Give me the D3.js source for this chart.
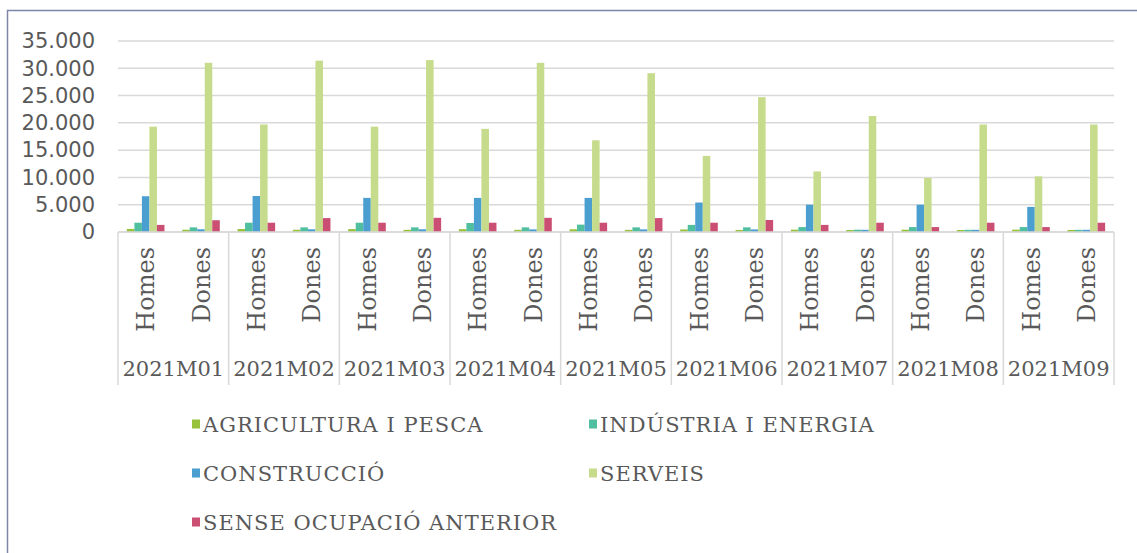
<!DOCTYPE html>
<html>
<head>
<meta charset="utf-8">
<script src="https://cdn.jsdelivr.net/npm/d3@7"></script>
<style>
  body { margin: 0; background: #fff; }
  svg { display: block; }
</style>
</head>
<body>
<div id="chart"></div>
<script>
// months on the outer axis, sex on the inner axis
const months = ['2021M01', '2021M02', '2021M03', '2021M04', '2021M05', '2021M06', '2021M07', '2021M08', '2021M09']
const sexes = ['Homes', 'Dones']
const seriesNames = ['AGRICULTURA I PESCA', 'INDÚSTRIA I ENERGIA', 'CONSTRUCCIÓ', 'SERVEIS', 'SENSE OCUPACIÓ ANTERIOR']
const yTicks = [0, 5000, 10000, 15000, 20000, 25000, 30000, 35000]

// values per month, [Homes, Dones] pairs
const agricultura = [560, 420, 550, 410, 540, 400, 520, 400, 500, 390, 470, 380, 430, 370, 420, 370, 430, 380]
const industria = [1700, 850, 1700, 850, 1700, 850, 1650, 850, 1350, 850, 1300, 850, 900, 420, 900, 400, 900, 400]
const construccio = [6550, 500, 6600, 500, 6250, 500, 6250, 480, 6250, 480, 5400, 470, 5000, 400, 5000, 400, 4600, 400]
const serveis = [19300, 31000, 19700, 31400, 19300, 31500, 18900, 31000, 16800, 29100, 13950, 24700, 11100, 21250, 9900, 19700, 10200, 19700]
const senseOcupacio = [1300, 2150, 1700, 2550, 1700, 2600, 1700, 2600, 1700, 2550, 1700, 2200, 1300, 1700, 900, 1700, 900, 1700]

const colors = ['#98c23c', '#4fbf9f', '#4a9ed0', '#c6db8c', '#cb4f72']

let svgWidth = 1137, svgHeight = 553
let margin = { top: 41, left: 118, right: 23, bottom: 321 }
let width = svgWidth - margin.left - margin.right
let height = svgHeight - margin.top - margin.bottom

let svg = d3.select('#chart').append('svg')
    .attr('width', svgWidth)
    .attr('height', svgHeight)

// outer chart frame (runs off the right and bottom edges)
svg.append('rect')
    .attr('x', 7.5).attr('y', 10.5)
    .attr('width', 1200).attr('height', 600)
    .attr('fill', 'none')
    .attr('stroke', '#7e86a8')
    .attr('stroke-width', 1.5)

let g = svg.append('g')
    .attr('transform', 'translate(' + margin.left + ',' + margin.top + ')')

let categories = []
months.forEach(m => sexes.forEach(s => categories.push(m + '|' + s)))

let valuesBySeries = [agricultura, industria, construccio, serveis, senseOcupacio]

let y = d3.scaleLinear().domain([0, 35000]).range([height, 0])
let xMonth = d3.scaleBand().domain(months).range([0, width])
let xCat = d3.scaleBand().domain(categories).range([0, width])
let xSeries = d3.scaleBand().domain(seriesNames).range([0, xCat.bandwidth()]).paddingOuter(1.18)

let loc = d3.formatLocale({ decimal: ',', thousands: '.', grouping: [3], currency: ['', ''] })
let fmt = loc.format(',')

// gridlines
g.append('g').selectAll('line').data(yTicks).join('line')
    .attr('x1', 0).attr('x2', width)
    .attr('y1', d => y(d)).attr('y2', d => y(d))
    .attr('stroke', '#d9d9d9')
    .attr('stroke-width', 1.5)

// y axis labels
let yAxis = g.append('g')
    .attr('transform', 'translate(-23,0)')
    .call(d3.axisLeft(y).tickValues(yTicks).tickFormat(fmt).tickSize(0).tickPadding(0))
yAxis.select('.domain').remove()
yAxis.selectAll('text')
    .attr('fill', '#595959')
    .style('font-family', '"DejaVu Sans", sans-serif')
    .style('font-size', '21px')

// bars
let barData = []
valuesBySeries.forEach((vals, si) => {
    vals.forEach((v, ci) => barData.push({ series: seriesNames[si], cat: categories[ci], value: v, color: colors[si] }))
})
g.append('g').selectAll('rect').data(barData).join('rect')
    .attr('x', d => xCat(d.cat) + xSeries(d.series))
    .attr('y', d => y(d.value))
    .attr('width', xSeries.bandwidth())
    .attr('height', d => y(0) - y(d.value))
    .attr('fill', d => d.color)

// category axis: separators
let sepBottom = 385 - margin.top
let bounds = months.map(m => xMonth(m)).concat([width])
g.append('g').selectAll('line').data(bounds).join('line')
    .attr('x1', d => d).attr('x2', d => d)
    .attr('y1', height).attr('y2', sepBottom)
    .attr('stroke', '#d9d9d9')
    .attr('stroke-width', 1.5)

// baseline
g.append('line')
    .attr('x1', 0).attr('x2', width)
    .attr('y1', height).attr('y2', height)
    .attr('stroke', '#d9d9d9')
    .attr('stroke-width', 1.5)

const slab = '"DejaVu Serif", serif'

// inner labels (rotated)
g.append('g').selectAll('text').data(categories).join('text')
    .attr('transform', d => 'translate(' + (xCat(d) + xCat.bandwidth() / 2) + ',' + (height + 15) + ') rotate(-90)')
    .attr('dy', '0.36em')
    .attr('text-anchor', 'end')
    .attr('fill', '#595959')
    .style('font-family', slab)
    .style('font-size', '24px')
    .text(d => d.split('|')[1])

// outer labels (months)
g.append('g').selectAll('text').data(months).join('text')
    .attr('x', d => xMonth(d) + xMonth.bandwidth() / 2)
    .attr('y', 376 - margin.top)
    .attr('text-anchor', 'middle')
    .attr('fill', '#595959')
    .style('font-family', slab)
    .style('font-size', '21px')
    .text(d => d)

// legend
let legend = svg.append('g')
let legendItems = legend.selectAll('g').data(seriesNames).join('g')
    .attr('transform', (d, i) => 'translate(' + (i % 2 === 0 ? 192 : 589) + ',' + (424 + Math.floor(i / 2) * 49) + ')')
legendItems.append('rect')
    .attr('x', 0).attr('y', -4.5)
    .attr('width', 8).attr('height', 9)
    .attr('fill', (d, i) => colors[i])
legendItems.append('text')
    .attr('x', 11)
    .attr('dy', '0.36em')
    .attr('fill', '#595959')
    .style('font-family', slab)
    .style('font-size', '21px')
    .style('letter-spacing', '1px')
    .text(d => d)
</script>
</body>
</html>
